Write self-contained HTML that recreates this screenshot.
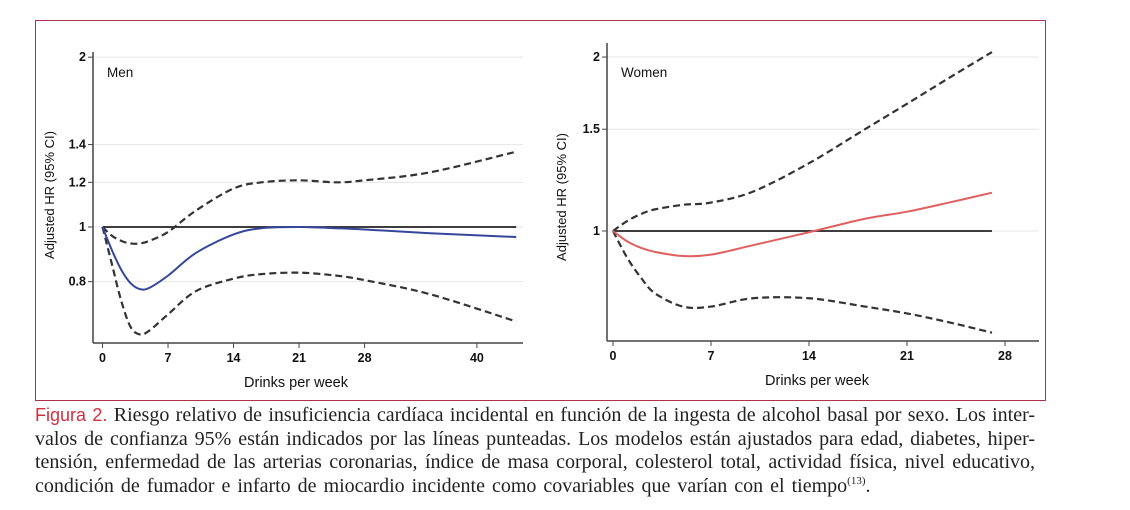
<!DOCTYPE html>
<html><head><meta charset="utf-8">
<style>
body{margin:0;background:#fff;width:1130px;height:510px;overflow:hidden;position:relative;font-family:"Liberation Sans",sans-serif}
#frame{position:absolute;left:35px;top:20px;width:1011px;height:381px;border:1.5px solid #b0304a;box-sizing:border-box}
#cap{position:absolute;left:35px;top:404px;width:1000px;font-family:"Liberation Serif",serif;font-size:20px;line-height:23.5px;color:#222}
#cap div{text-align:justify;text-align-last:justify;white-space:nowrap;height:23.5px}
#cap div.last{text-align-last:left;word-spacing:2px}
#cap .fig{color:#d0303f;font-family:"Liberation Sans",sans-serif;font-size:18px}
#cap .sup{font-size:11px;line-height:0;vertical-align:baseline;position:relative;top:-8px}
svg{position:absolute;left:0;top:0}
</style></head><body>
<div id="frame"></div>
<svg id="chart" width="1130" height="510"></svg>
<div id="cap">
<div><span class="fig">Figura 2.</span> Riesgo relativo de insuficiencia cardíaca incidental en función de la ingesta de alcohol basal por sexo. Los inter-</div>
<div>valos de confianza 95% están indicados por las líneas punteadas. Los modelos están ajustados para edad, diabetes, hiper-</div>
<div>tensión, enfermedad de las arterias coronarias, índice de masa corporal, colesterol total, actividad física, nivel educativo,</div>
<div class="last">condición de fumador e infarto de miocardio incidente como covariables que varían con el tiempo<span class="sup">(13)</span>.</div>
</div>
<script>
const menX=[0,1,2,3,4,5,7,10,14,17,21,25,28,35,44.2];
const menHR=[1,0.91,0.84,0.795,0.776,0.78,0.82,0.9,0.97,0.995,1.0,0.995,0.99,0.975,0.96];
const menUpper=[1,0.965,0.945,0.935,0.935,0.945,0.98,1.07,1.17,1.2,1.21,1.2,1.21,1.25,1.36];
const menLower=[1,0.86,0.74,0.665,0.645,0.655,0.7,0.77,0.81,0.825,0.83,0.82,0.805,0.76,0.68];
const menYTicks=[2,1.4,1.2,1,0.8];
const menXTicks=[0,7,14,21,28,40];
const womenX=[0,1,2,3,5,7,10,14,18,21,24,27.07];
const womenHR=[1,0.96,0.935,0.92,0.905,0.91,0.945,0.995,1.05,1.08,1.12,1.165];
const womenUpper=[1,1.04,1.07,1.09,1.11,1.12,1.17,1.31,1.5,1.66,1.84,2.04];
const womenLower=[1,0.9,0.83,0.78,0.74,0.74,0.765,0.765,0.74,0.72,0.695,0.667];
const womenYTicks=[2,1.5,1];
const womenXTicks=[0,7,14,21,28];
const NS='http://www.w3.org/2000/svg';
const svg=document.getElementById('chart');
function mk(t,a,p){const e=document.createElementNS(NS,t);for(const k in a)e.setAttribute(k,a[k]);(p||svg).appendChild(e);return e;}
function panel(o){
 const g=mk('g',{});
 
 
 const sx=v=>o.x0+v*o.kx, sy=v=>o.y1-Math.log(v)*o.ky;
 o.yt.forEach(t=>{
  const gl=mk('line',{x1:o.ax,x2:o.right,y1:sy(t),y2:sy(t),stroke:'#e6e6e6','stroke-width':1},g);
  
  mk('line',{x1:o.ax-5,x2:o.ax,y1:sy(t),y2:sy(t),stroke:'#444'},g);
  const tx=mk('text',{x:o.ax-7,y:sy(t)+4,'text-anchor':'end','font-size':12.5,fill:'#111','font-weight':'bold'},g);tx.textContent=t;
  
 });
 o.xt.forEach(t=>{
  mk('line',{x1:sx(t),x2:sx(t),y1:o.axY,y2:o.axY+5,stroke:'#444'},g);
  const tx=mk('text',{x:sx(t),y:o.axY+19,'text-anchor':'middle','font-size':12.5,fill:'#111','font-weight':'bold'},g);tx.textContent=t;
  
 });
 const ya=mk('line',{x1:o.ax,x2:o.ax,y1:o.top,y2:o.axY,stroke:'#444','stroke-width':1.5},g);
 
 const xa=mk('line',{x1:o.ax,x2:o.right,y1:o.axY,y2:o.axY,stroke:'#444','stroke-width':1.5},g);
 
 const xt=mk('text',{x:o.xtx,y:o.axY+44,'text-anchor':'middle','font-size':14.5,fill:'#111'},g);xt.textContent='Drinks per week';
 
 const yt=mk('text',{x:0,y:0,'text-anchor':'middle','font-size':13,fill:'#111',transform:`translate(${o.ytx},${o.yty}) rotate(-90)`},g);yt.textContent='Adjusted HR (95% CI)';
 
 const lb=mk('text',{x:o.ax+14,y:sy(2)+20,'font-size':13.5,fill:'#111'},g);lb.textContent=o.name==='men'?'Men':'Women';
 
 const last=o.X[o.X.length-1];
 const ref=mk('line',{x1:sx(0),x2:sx(last),y1:sy(1),y2:sy(1),stroke:'#222','stroke-width':1.8},g);
 
 const path=arr=>{
  const p=o.X.map((x,i)=>[sx(x),sy(arr[i])]);
  let d=`M${p[0][0]},${p[0][1]}`;
  for(let i=0;i<p.length-1;i++){const p0=p[i-1]||p[i],p1=p[i],p2=p[i+1],p3=p[i+2]||p2;
   d+=` C${p1[0]+(p2[0]-p0[0])/6},${p1[1]+(p2[1]-p0[1])/6} ${p2[0]-(p3[0]-p1[0])/6},${p2[1]-(p3[1]-p1[1])/6} ${p2[0]},${p2[1]}`;}
  return d;};
 const u=mk('path',{d:path(o.U),fill:'none',stroke:'#333','stroke-width':2.2,'stroke-dasharray':'7 4'},g);
 
 const l=mk('path',{d:path(o.L),fill:'none',stroke:'#333','stroke-width':2.2,'stroke-dasharray':'7 4'},g);
 
 const m=mk('path',{d:path(o.H),fill:'none',stroke:o.col,'stroke-width':2},g);
 
}
panel({name:'men',x0:102.5,kx:9.36,y1:227,ky:245,ax:93,top:52,axY:343,right:523,xtx:296,ytx:54,yty:195,yt:menYTicks,xt:menXTicks,X:menX,H:menHR,U:menUpper,L:menLower,col:'#34479a'});
panel({name:'women',x0:613,kx:14,y1:231,ky:251,ax:607,top:43,axY:341,right:1039,xtx:817,ytx:566,yty:197,yt:womenYTicks,xt:womenXTicks,X:womenX,H:womenHR,U:womenUpper,L:womenLower,col:'#e06060'});
</script>
</body></html>
